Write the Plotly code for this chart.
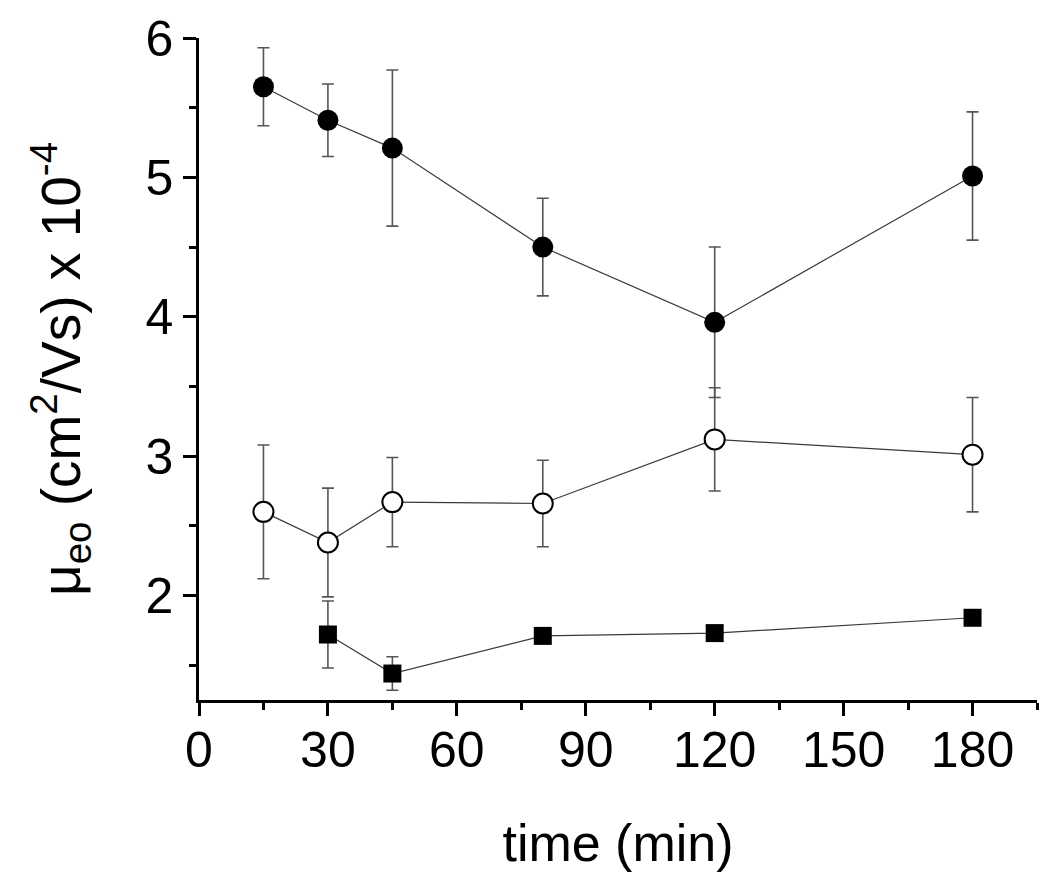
import plotly.graph_objects as go

time_filled = [15, 30, 45, 80, 120, 180]
mu_filled = [5.65, 5.41, 5.21, 4.50, 3.96, 5.01]
err_filled = [0.28, 0.26, 0.56, 0.35, 0.54, 0.46]

time_open = [15, 30, 45, 80, 120, 180]
mu_open = [2.60, 2.38, 2.67, 2.66, 3.12, 3.01]
err_open = [0.48, 0.39, 0.32, 0.31, 0.37, 0.41]

time_square = [30, 45, 80, 120, 180]
mu_square = [1.72, 1.44, 1.71, 1.73, 1.84]
err_square = [0.24, 0.12, 0.03, 0.03, 0.04]

x_ticks = [0, 30, 60, 90, 120, 150, 180]
y_ticks = [2, 3, 4, 5, 6]

FONT = "Liberation Sans, Arial, sans-serif"
LINE_COL = "#3a3a3a"
ERR_COL = "#555555"

def err(e):
    return dict(type="data", array=e, visible=True, color=ERR_COL, thickness=1.6, width=6)

fig = go.Figure()
fig.add_trace(go.Scatter(
    x=time_filled, y=mu_filled, mode="lines+markers", error_y=err(err_filled),
    line=dict(color=LINE_COL, width=1.2),
    marker=dict(symbol="circle", size=21, color="black", line=dict(width=0)),
    showlegend=False))
fig.add_trace(go.Scatter(
    x=time_open, y=mu_open, mode="lines+markers", error_y=err(err_open),
    line=dict(color=LINE_COL, width=1.2),
    marker=dict(symbol="circle", size=20, color="white", line=dict(width=2, color="black")),
    showlegend=False))
fig.add_trace(go.Scatter(
    x=time_square, y=mu_square, mode="lines+markers", error_y=err(err_square),
    line=dict(color=LINE_COL, width=1.2),
    marker=dict(symbol="square", size=18, color="black", line=dict(width=0)),
    showlegend=False))

fig.update_layout(
    width=1050, height=888,
    margin=dict(l=191, r=21, t=30, b=196),
    paper_bgcolor="white", plot_bgcolor="white",
    font=dict(family=FONT, color="black"),
    xaxis=dict(
        range=[0, 195], tickvals=x_ticks, ticktext=[str(v) for v in x_ticks],
        automargin=False,
        showgrid=False, zeroline=False, showline=True, linecolor="black", linewidth=2.5,
        ticks="outside", ticklen=13, tickwidth=2.5, tickcolor="black",
        minor=dict(dtick=15, tick0=0, ticks="outside", ticklen=7, tickwidth=2.5, tickcolor="black"),
        tickfont=dict(size=50, family=FONT), ticklabelstandoff=-9,
        title=dict(text="time (min)", font=dict(size=52, family=FONT), standoff=48),
    ),
    yaxis=dict(
        range=[1.25, 6], tickvals=y_ticks, ticktext=[str(v) for v in y_ticks],
        automargin=False,
        showgrid=False, zeroline=False, showline=True, linecolor="black", linewidth=2.5,
        ticks="outside", ticklen=13, tickwidth=2.5, tickcolor="black",
        minor=dict(dtick=0.5, tick0=0, ticks="outside", ticklen=7, tickwidth=2.5, tickcolor="black"),
        tickfont=dict(size=50, family=FONT), ticklabelstandoff=0,
        title=dict(text="μ<sub>eo</sub> (cm<sup>2</sup>/Vs) x 10<sup>-4</sup>",
                   font=dict(size=55, family=FONT), standoff=48),
    ),
)

fig.write_html("out.html")
